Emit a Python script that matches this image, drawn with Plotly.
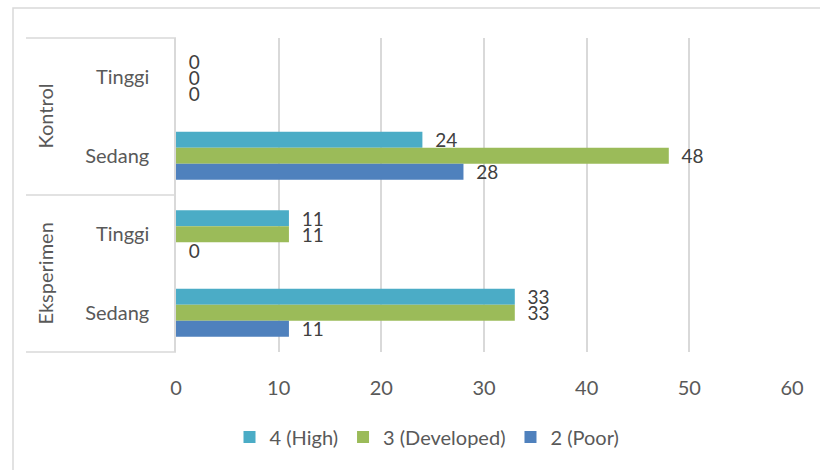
import plotly.graph_objects as go

# Category structure (outer group, inner level), top to bottom
groups = ["Kontrol", "Kontrol", "Eksperimen", "Eksperimen"]
levels = ["Tinggi", "Sedang", "Tinggi", "Sedang"]

# Series values per category
high = [0, 24, 11, 33]
developed = [0, 48, 11, 33]
poor = [0, 28, 0, 11]

series_names = ["4 (High)", "3 (Developed)", "2 (Poor)"]
series_colors = ["#4BACC6", "#9BBB59", "#4F81BD"]

x_ticks = [0, 10, 20, 30, 40, 50, 60]

keys = [f"{g}|{l}" for g, l in zip(groups, levels)]

FONT = "Lato, 'Open Sans', sans-serif"
TXT = "#595959"
GRID = "#D9D9D9"

W, H = 820, 470
L, R, T, B = 176, 28, 38, 118
PW, PH = W - L - R, H - T - B


def px_x(px):
    return (px - L) / PW


def px_y(py):
    return (H - B - py) / PH


fig = go.Figure()
for name, vals, col in zip(series_names, [high, developed, poor], series_colors):
    fig.add_trace(go.Bar(
        y=keys, x=vals, name=name, orientation="h",
        marker=dict(color=col, line=dict(width=0)),
        text=vals, texttemplate="  %{x}", textposition="outside",
        constraintext="none",
        textfont=dict(family=FONT, size=19, color="#404040"),
        cliponaxis=False,
    ))

shapes = []
# outer chart border
shapes.append(dict(type="rect", xref="paper", yref="paper",
                   x0=px_x(13), x1=px_x(840), y0=px_y(490), y1=px_y(8),
                   line=dict(color=GRID, width=1.5), layer="below"))
# category dividers
for yp in [1, 0.5, 0]:
    shapes.append(dict(type="line", xref="paper", yref="paper",
                       x0=px_x(26), x1=0, y0=yp, y1=yp,
                       line=dict(color=GRID, width=1.5)))

annotations = []
for g, yc in [("Kontrol", 0.75), ("Eksperimen", 0.25)]:
    annotations.append(dict(text=g, xref="paper", yref="paper",
                            x=px_x(44), y=yc, textangle=-90, showarrow=False,
                            xanchor="center", yanchor="middle",
                            font=dict(family=FONT, size=20, color=TXT)))

fig.update_layout(
    width=W, height=H,
    margin=dict(l=L, r=R, t=T, b=B),
    paper_bgcolor="white", plot_bgcolor="white",
    barmode="group", bargap=0.39, bargroupgap=0,
    showlegend=True,
    legend=dict(orientation="h", x=px_x(427), y=px_y(437),
                xanchor="center", yanchor="middle",
                font=dict(family=FONT, size=20, color=TXT),
                itemwidth=30, traceorder="normal"),
    shapes=shapes, annotations=annotations,
    xaxis=dict(range=[0, 60], tickvals=x_ticks, showgrid=True,
               gridcolor=GRID, gridwidth=1.5, zeroline=False,
               showline=False,
               ticks="outside", ticklen=18, tickcolor="rgba(0,0,0,0)",
               tickfont=dict(family=FONT, size=20, color=TXT)),
    yaxis=dict(type="category", categoryorder="array", categoryarray=keys,
               autorange="reversed", tickvals=keys, ticktext=levels,
               showline=True, linecolor=GRID, linewidth=1.5,
               ticks="outside", ticklen=21, tickcolor="rgba(0,0,0,0)",
               showgrid=False,
               tickfont=dict(family=FONT, size=20, color=TXT)),
)

fig.write_html("out.html")
